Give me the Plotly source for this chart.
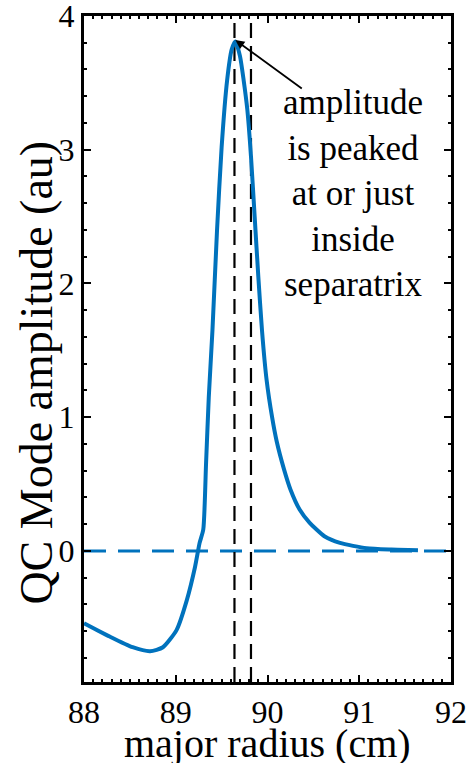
import plotly.graph_objects as go

# data
radius = [88.00, 88.28, 88.53, 88.72, 88.86, 89.01, 89.12, 89.21, 89.26, 89.30,
          89.33, 89.36, 89.40, 89.45, 89.50, 89.56, 89.61, 89.65, 89.70, 89.74,
          89.78, 89.82, 89.86, 89.90, 89.94, 89.99, 90.05, 90.10, 90.18, 90.25,
          90.35, 90.46, 90.62, 90.79, 91.08, 91.35, 91.64]
amplitude = [-0.54, -0.64, -0.72, -0.75, -0.72, -0.59, -0.37, -0.12, 0.06, 0.16,
             0.65, 1.15, 1.65, 2.40, 3.02, 3.52, 3.75, 3.81, 3.70, 3.52,
             3.30, 2.95, 2.50, 2.05, 1.65, 1.28, 1.00, 0.82, 0.61, 0.46,
             0.31, 0.21, 0.11, 0.06, 0.02, 0.01, 0.005]
separatrix_lines = [89.64, 89.82]
zero_level = 0
x_range = [88, 92]
y_range = [-0.98, 4.0]
x_ticks = [88, 89, 90, 91, 92]
y_ticks = [0, 1, 2, 3, 4]
x_title = "major radius (cm)"
y_title = "QC Mode amplitude (au)"
annotation_text = "amplitude<br>is peaked<br>at or just<br>inside<br>separatrix"
peak_point = (89.65, 3.82)
arrow_tail = (90.39, 3.45)
text_pos = (90.93, 2.67)

BLUE = "#0072BD"
FONT = "Liberation Serif"

fig = go.Figure()

fig.add_trace(go.Scatter(x=x_range, y=[zero_level, zero_level], mode="lines",
                         line=dict(color=BLUE, width=3, dash="22px,12px"),
                         hoverinfo="skip", showlegend=False))
for xv in separatrix_lines:
    fig.add_trace(go.Scatter(x=[xv, xv], y=y_range, mode="lines",
                             line=dict(color="black", width=2.2, dash="15px,8px"),
                             hoverinfo="skip", showlegend=False))
fig.add_trace(go.Scatter(x=radius, y=amplitude, mode="lines",
                         line=dict(color=BLUE, width=4, shape="spline", smoothing=0.6),
                         showlegend=False))

fig.add_annotation(x=peak_point[0], y=peak_point[1], ax=arrow_tail[0], ay=arrow_tail[1],
                   axref="x", ayref="y", xref="x", yref="y", text="",
                   showarrow=True, arrowhead=2, arrowsize=1, arrowwidth=1.8,
                   arrowcolor="black")
fig.add_annotation(x=text_pos[0], y=text_pos[1], xref="x", yref="y",
                   text=annotation_text, showarrow=False, align="center",
                   font=dict(family=FONT, size=35, color="black"))

# axis titles
fig.add_annotation(x=0.5, y=-0.093, xref="paper", yref="paper", text=x_title,
                   showarrow=False, xanchor="center", yanchor="middle",
                   font=dict(family=FONT, size=40, color="black"))
fig.add_annotation(x=-0.13, y=0.465, xref="paper", yref="paper", text=y_title,
                   showarrow=False, xanchor="center", yanchor="middle", textangle=-90,
                   font=dict(family=FONT, size=46, color="black"))

axis_common = dict(showline=True, linewidth=3, linecolor="black", mirror="ticks",
                   ticks="inside", ticklen=7, tickwidth=2, tickcolor="black",
                   showgrid=False, zeroline=False, ticklabeloverflow="allow",
                   automargin=False,
                   tickfont=dict(family=FONT, size=32, color="black"))

fig.update_xaxes(range=x_range, tickvals=x_ticks,
                 minor=dict(dtick=0.1, ticks="inside", ticklen=3, tickwidth=2, tickcolor="black"),
                 **axis_common)
fig.update_yaxes(range=y_range, tickvals=y_ticks,
                 minor=dict(dtick=0.2, ticks="inside", ticklen=3, tickwidth=2, tickcolor="black"),
                 **axis_common)

fig.update_layout(width=467, height=763, margin=dict(l=84, r=16, t=16, b=81),
                  plot_bgcolor="white", paper_bgcolor="white")

fig.write_html("out.html")
